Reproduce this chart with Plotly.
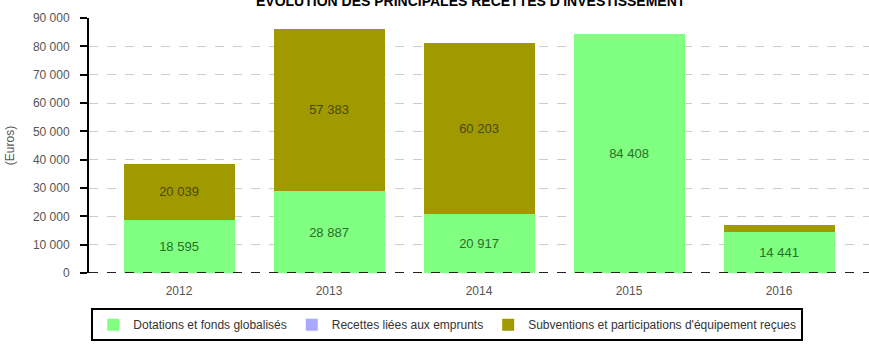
import plotly.graph_objects as go

years = ["2012", "2013", "2014", "2015", "2016"]
dotations = [18595, 28887, 20917, 84408, 14441]
recettes_emprunts = [0, 0, 0, 0, 0]
subventions = [20039, 57383, 60203, 0, 2500]
subventions_labels = ["20 039", "57 383", "60 203", "", ""]

y_ticks = [0, 10000, 20000, 30000, 40000, 50000, 60000, 70000, 80000, 90000]


def fmt(v):
    return f"{v:,}".replace(",", " ") if v else ""


FONT = "Liberation Sans, Arial, sans-serif"

fig = go.Figure()
fig.add_trace(go.Bar(
    x=years, y=dotations, name="Dotations et fonds globalisés",
    marker=dict(color="#80FF80", line=dict(width=0)),
    text=[fmt(v) for v in dotations], textposition="inside",
    insidetextanchor="middle", textangle=0,
    textfont=dict(color="#2a6e2a", size=13, family=FONT),
))
fig.add_trace(go.Bar(
    x=years, y=recettes_emprunts, name="Recettes liées aux emprunts",
    marker=dict(color="#A8A8FF", line=dict(width=0)),
))
fig.add_trace(go.Bar(
    x=years, y=subventions, name="Subventions et participations d'équipement reçues",
    marker=dict(color="#A09A00", line=dict(width=0)),
    text=subventions_labels, textposition="inside",
    insidetextanchor="middle", textangle=0,
    textfont=dict(color="#4a4810", size=13, family=FONT),
))

fig.update_layout(
    width=869, height=347,
    margin=dict(l=89, r=0, t=18, b=74),
    barmode="stack", bargap=0.26,
    paper_bgcolor="white", plot_bgcolor="white",
    separators=", ",
    font=dict(family=FONT, size=12, color="#555555"),
    showlegend=True,
    legend=dict(
        orientation="h", x=0.003, xanchor="left", y=-0.138, yanchor="top",
        bordercolor="black", borderwidth=2, traceorder="normal",
        font=dict(size=12, color="#333333", family=FONT),
    ),
    xaxis=dict(
        range=[-0.6, 4.6], showgrid=False, showline=False, ticks="",
        tickfont=dict(size=12, color="#555555"), ticklabelstandoff=9,
    ),
    yaxis=dict(
        range=[0, 90000], tickvals=y_ticks, tickformat=",d",
        showgrid=True, gridcolor="#cccccc", griddash="dash", gridwidth=1,
        showline=True, linecolor="black", linewidth=2,
        ticks="outside", ticklen=7, tickcolor="black", tickwidth=2,
        zeroline=False, ticklabelstandoff=8,
        tickfont=dict(size=12, color="#555555"),
        title=dict(text="(Euros)", font=dict(size=12, color="#555555"), standoff=16),
    ),
    uniformtext=dict(minsize=8, mode="hide"),
)

# dark dashed baseline along the category axis
fig.add_shape(type="line", xref="paper", yref="y", x0=0, x1=1, y0=0, y1=0,
              line=dict(color="#222222", width=2, dash="dash"), layer="above")

fig.add_annotation(
    text="<b>EVOLUTION DES PRINCIPALES RECETTES D'INVESTISSEMENT</b>",
    xref="paper", yref="paper", x=0.49, y=1, yanchor="middle", yshift=17,
    showarrow=False, font=dict(size=14, color="black", family=FONT),
)

fig.write_html("out.html")
